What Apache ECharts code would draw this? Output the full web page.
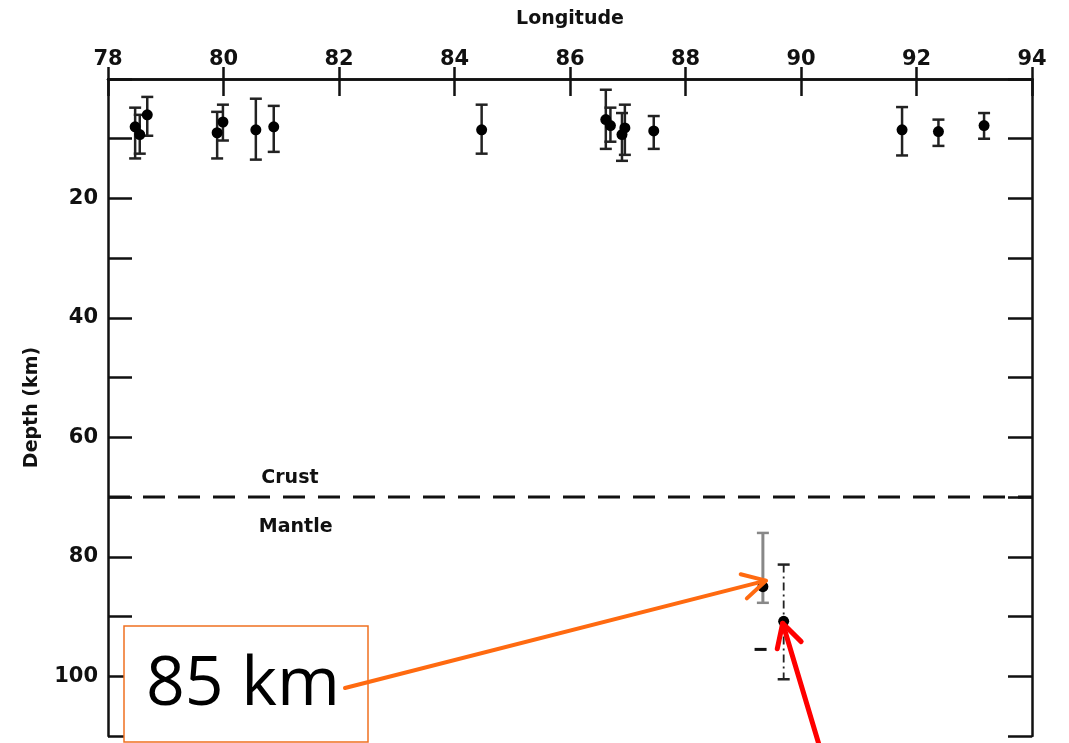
<!DOCTYPE html>
<html>
<head>
<meta charset="utf-8">
<script src="https://cdn.jsdelivr.net/npm/echarts@6/dist/echarts.min.js"></script>
<style>
  html, body { margin: 0; padding: 0; background: #fff; }
  #chart { width: 1069px; height: 743px; }
</style>
</head>
<body>
<div id="chart"></div>
<script>
// Earthquake focal depths along the arc: longitude (deg E), depth (km), error range (km)
const lonTicks = [78, 80, 82, 84, 86, 88, 90, 92, 94];
const depthTicks = [20, 40, 60, 80, 100];

// crustal events
const crustLon   = [78.47, 78.68, 78.55, 79.89, 79.99, 80.56, 80.87, 84.47, 86.62, 86.70, 86.90, 86.95, 87.45, 91.75, 92.38, 93.17];
const crustDepth = [8.0,   6.0,   9.3,   9.0,   7.2,   8.5,   8.0,   8.5,   6.8,   7.8,   9.3,   8.2,   8.7,   8.5,   8.8,   7.8];
const crustLow   = [4.8,   3.0,   6.0,   5.5,   4.3,   3.3,   4.5,   4.3,   1.8,   4.8,   5.7,   4.3,   6.2,   4.7,   6.8,   5.7];
const crustHigh  = [13.3,  9.5,   12.5,  13.3,  10.3,  13.5,  12.2,  12.5,  11.7,  10.5,  13.7,  12.7,  11.7,  12.8,  11.2,  10.0];

// mantle events
const mantleLon   = [89.34, 89.70];
const mantleDepth = [85, 90.8];
const mantleLow   = [76, 81.3];
const mantleHigh  = [87.7, 100.5];
const strayCap    = [89.30, 95.5];

const moho = 70;
const layerLabels = [
  { name: 'Crust',  lon: 81.15, depth: 66.8 },
  { name: 'Mantle', lon: 81.25, depth: 75.0 }
];
const calloutText = '85 km';

const chart = echarts.init(document.getElementById('chart'));
const FONT = 'DejaVu Sans';

function errorBar(stroke, width, dash, cap) {
  return function (params, api) {
    const x = api.value(0);
    const a = api.coord([x, api.value(1)]);
    const b = api.coord([x, api.value(2)]);
    const st = { stroke: stroke, lineWidth: width, lineDash: dash || null };
    const cs = { stroke: stroke, lineWidth: 2.5 };
    return {
      type: 'group',
      children: [
        { type: 'line', shape: { x1: a[0], y1: a[1], x2: b[0], y2: b[1] }, style: st },
        { type: 'line', shape: { x1: a[0] - cap, y1: a[1], x2: a[0] + cap, y2: a[1] }, style: cs },
        { type: 'line', shape: { x1: b[0] - cap, y1: b[1], x2: b[0] + cap, y2: b[1] }, style: cs }
      ]
    };
  };
}

const axisLine = { show: true, lineStyle: { color: '#111', width: 2.5 } };
const axisTickStyle = { color: '#111', width: 2.5 };
const tickFont = { fontFamily: FONT, fontWeight: 'bold', fontSize: 21, color: '#111' };

chart.setOption({
  animation: false,
  backgroundColor: '#fff',
  grid: { left: 108, right: 37, top: 79, bottom: 7, outerBoundsMode: 'none', containLabel: false },
  xAxis: [
    {
      type: 'value', position: 'top', min: lonTicks[0], max: lonTicks[lonTicks.length - 1], interval: 2,
      name: 'Longitude', nameLocation: 'middle', nameGap: 50,
      nameTextStyle: { fontFamily: FONT, fontWeight: 'bold', fontSize: 19, color: '#111' },
      axisLine: axisLine,
      axisTick: { inside: true, length: 17, lineStyle: axisTickStyle },
      axisLabel: Object.assign({ margin: 9 }, tickFont),
      splitLine: { show: false }
    },
    {
      type: 'value', position: 'bottom', min: lonTicks[0], max: lonTicks[lonTicks.length - 1], interval: 2,
      axisLine: axisLine,
      axisTick: { inside: true, length: 12, lineStyle: axisTickStyle },
      axisLabel: { show: false },
      splitLine: { show: false }
    }
  ],
  yAxis: [
    {
      type: 'value', position: 'left', inverse: true, min: 0, max: 110, interval: 10,
      name: 'Depth (km)', nameLocation: 'middle', nameGap: 66, nameRotate: 90,
      nameTextStyle: { fontFamily: FONT, fontWeight: 'bold', fontSize: 19, color: '#111' },
      axisLine: axisLine,
      axisTick: { inside: true, length: 24, lineStyle: axisTickStyle },
      axisLabel: Object.assign({
        margin: 10,
        formatter: v => (depthTicks.indexOf(v) >= 0 ? String(v) : '')
      }, tickFont),
      splitLine: { show: false }
    },
    {
      type: 'value', position: 'right', inverse: true, min: 0, max: 110, interval: 10,
      axisLine: axisLine,
      axisTick: { inside: true, length: 24, lineStyle: axisTickStyle },
      axisLabel: { show: false },
      splitLine: { show: false }
    }
  ],
  series: [
    {
      type: 'custom', name: 'crust error', renderItem: errorBar('#222', 2.5, null, 6),
      data: crustLon.map((x, i) => [x, crustLow[i], crustHigh[i]]), z: 3
    },
    {
      type: 'custom', name: 'mantle error 1', renderItem: errorBar('#888', 3, null, 6),
      data: [[mantleLon[0], mantleLow[0], mantleHigh[0]]], z: 3
    },
    {
      type: 'custom', name: 'mantle error 2', renderItem: errorBar('#222', 1.8, [8, 4, 2, 4], 6),
      data: [[mantleLon[1], mantleLow[1], mantleHigh[1]]], z: 3
    },
    {
      type: 'scatter', name: 'crust events', symbol: 'circle', symbolSize: 11,
      itemStyle: { color: '#000', opacity: 1 },
      data: crustLon.map((x, i) => [x, crustDepth[i]]), z: 4
    },
    {
      type: 'scatter', name: 'mantle events', symbol: 'circle', symbolSize: 11,
      itemStyle: { color: '#000', opacity: 1 },
      data: mantleLon.map((x, i) => [x, mantleDepth[i]]), z: 4
    },
    {
      type: 'scatter', name: 'stray cap', symbol: 'rect', symbolSize: [12, 3],
      itemStyle: { color: '#111', opacity: 1 }, data: [strayCap], z: 4
    },
    {
      type: 'line', name: 'Moho', symbol: 'none',
      lineStyle: { color: '#111', width: 3, type: [22, 13] },
      data: [[lonTicks[0], moho], [lonTicks[lonTicks.length - 1], moho]], z: 2
    },
    {
      type: 'scatter', name: 'layers', symbolSize: 0,
      itemStyle: { opacity: 1 },
      label: {
        show: true, position: 'inside', formatter: p => p.data[2],
        fontFamily: FONT, fontWeight: 'bold', fontSize: 19, color: '#111'
      },
      data: layerLabels.map(d => [d.lon, d.depth, d.name]), z: 5
    }
  ]
});

// Callout box and arrows pointing at the two mantle events
function arrow(sx, sy, tx, ty, color, width, head) {
  const a = Math.atan2(ty - sy, tx - sx);
  const spread = 0.5;
  const p1 = [tx - head * Math.cos(a - spread), ty - head * Math.sin(a - spread)];
  const p2 = [tx - head * Math.cos(a + spread), ty - head * Math.sin(a + spread)];
  return [
    { type: 'line', shape: { x1: sx, y1: sy, x2: tx, y2: ty },
      style: { stroke: color, lineWidth: width, lineCap: 'round' }, z: 20 },
    { type: 'polyline', shape: { points: [p1, [tx, ty], p2] },
      style: { stroke: color, lineWidth: width, fill: null, lineCap: 'round', lineJoin: 'round' }, z: 20 }
  ];
}

const p85 = chart.convertToPixel({ xAxisIndex: 0, yAxisIndex: 0 }, [mantleLon[0], mantleDepth[0]]);
const p91 = chart.convertToPixel({ xAxisIndex: 0, yAxisIndex: 0 }, [mantleLon[1], mantleDepth[1]]);

const box = { x: 124, y: 626, w: 244, h: 116 };
chart.setOption({
  graphic: [
    { type: 'rect', shape: { x: box.x, y: box.y, width: box.w, height: box.h },
      style: { fill: '#fff', stroke: '#F07020', lineWidth: 1.5 }, z: 15 },
    { type: 'text', x: 243, y: 686,
      style: { text: calloutText, font: '68px "Open Sans"', fill: '#000', align: 'center', verticalAlign: 'middle' }, z: 16 },
    ...arrow(345, 688, p85[0] + 3, p85[1] - 6, '#FF6A10', 4, 26),
    ...arrow(820, 748, p91[0] - 1, p91[1] + 2, '#FF0000', 5, 26)
  ]
});
</script>
</body>
</html>
